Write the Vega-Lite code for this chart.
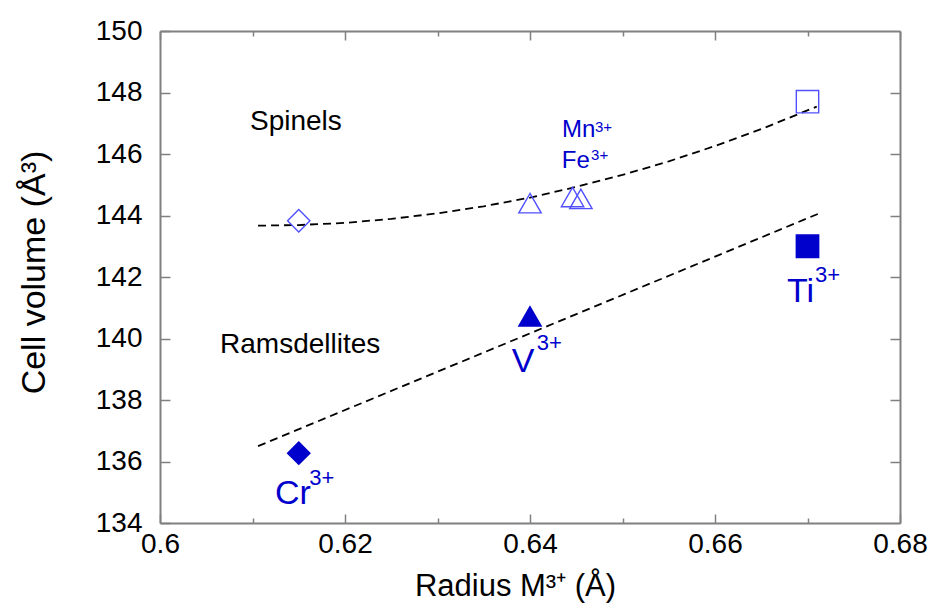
{
  "$schema": "https://vega.github.io/schema/vega-lite/v6.json",
  "width": 740,
  "height": 492,
  "autosize": {"type": "none"},
  "padding": {"left": 160, "top": 31, "right": 35, "bottom": 87},
  "background": "white",
  "config": {
    "view": {"stroke": null},
    "font": "Liberation Sans",
    "axis": {
      "domainColor": "#808080",
      "tickColor": "#808080",
      "domainWidth": 2,
      "tickWidth": 1.5,
      "grid": false,
      "labelFlush": false,
      "labelOverlap": false,
      "labelFont": "Liberation Sans",
      "labelFontSize": 28,
      "labelColor": "black",
      "titleFont": "Liberation Sans",
      "titleFontSize": 31,
      "titleFontWeight": "normal",
      "titleColor": "black"
    }
  },
  "datasets": {
    "points": [
      {"radius": 0.615, "volume": 143.83, "ion": "Cr", "phase": "Spinel"},
      {"radius": 0.64, "volume": 144.4, "ion": "V", "phase": "Spinel"},
      {"radius": 0.6446, "volume": 144.6, "ion": "Mn", "phase": "Spinel"},
      {"radius": 0.6455, "volume": 144.54, "ion": "Fe", "phase": "Spinel"},
      {"radius": 0.67, "volume": 147.7, "ion": "Ti", "phase": "Spinel"},
      {"radius": 0.615, "volume": 136.27, "ion": "Cr", "phase": "Ramsdellite"},
      {"radius": 0.64, "volume": 140.72, "ion": "V", "phase": "Ramsdellite"},
      {"radius": 0.67, "volume": 143.0, "ion": "Ti", "phase": "Ramsdellite"}
    ],
    "spinelFit": [
      {"radius": 0.6106, "volume": 143.67},
      {"radius": 0.615, "volume": 143.69},
      {"radius": 0.62, "volume": 143.76},
      {"radius": 0.625, "volume": 143.89},
      {"radius": 0.63, "volume": 144.07},
      {"radius": 0.635, "volume": 144.3},
      {"radius": 0.64, "volume": 144.58},
      {"radius": 0.645, "volume": 144.93},
      {"radius": 0.65, "volume": 145.32},
      {"radius": 0.655, "volume": 145.76},
      {"radius": 0.66, "volume": 146.26},
      {"radius": 0.665, "volume": 146.81},
      {"radius": 0.671, "volume": 147.54}
    ],
    "ramsFit": [
      {"radius": 0.6106, "volume": 136.5},
      {"radius": 0.6716, "volume": 144.11}
    ],
    "phaseLabels": [
      {"radius": 0.60973, "volume": 146.78, "label": "Spinels"},
      {"radius": 0.60649, "volume": 139.53, "label": "Ramsdellites"}
    ],
    "smallLabels": [
      {"radius": 0.64346, "volume": 146.55, "label": "Mn"},
      {"radius": 0.64343, "volume": 145.53, "label": "Fe"}
    ],
    "smallSup": [
      {"radius": 0.64703, "volume": 146.73, "label": "3+"},
      {"radius": 0.6466, "volume": 145.8, "label": "3+"}
    ],
    "ionLabels": [
      {"radius": 0.66778, "volume": 141.19, "label": "Ti"},
      {"radius": 0.63802, "volume": 138.92, "label": "V"},
      {"radius": 0.61243, "volume": 134.62, "label": "Cr"}
    ],
    "ionSup": [
      {"radius": 0.67081, "volume": 141.84, "label": "3+"},
      {"radius": 0.64072, "volume": 139.63, "label": "3+"},
      {"radius": 0.61614, "volume": 135.24, "label": "3+"}
    ]
  },
  "resolve": {"axis": {"x": "independent", "y": "independent"}},
  "layer": [
    {
      "data": {"name": "spinelFit"},
      "mark": {"type": "line", "color": "black", "strokeWidth": 1.8, "strokeDash": [8, 5]},
      "encoding": {
        "x": {"field": "radius", "type": "quantitative", "scale": {"domain": [0.6, 0.68], "nice": false, "zero": false},
          "axis": {"orient": "top", "values": [0.61, 0.63, 0.65, 0.67], "labels": false, "tickSize": -5, "title": null, "domain": true}},
        "y": {"field": "volume", "type": "quantitative", "scale": {"domain": [134, 150], "nice": false, "zero": false},
          "axis": {"orient": "right", "values": [136, 138, 140, 142, 144, 146, 148], "labels": false, "tickSize": -10, "title": null, "domain": true}}
      }
    },
    {
      "data": {"name": "ramsFit"},
      "mark": {"type": "line", "color": "black", "strokeWidth": 1.8, "strokeDash": [8, 5]},
      "encoding": {
        "x": {"field": "radius", "type": "quantitative",
          "axis": {"orient": "bottom", "values": [0.61, 0.63, 0.65, 0.67], "labels": false, "tickSize": -5, "title": null, "domain": false}},
        "y": {"field": "volume", "type": "quantitative", "axis": null}
      }
    },
    {
      "data": {"name": "points"},
      "mark": {"type": "point", "filled": true, "opacity": 1, "strokeWidth": 1.4},
      "encoding": {
        "x": {"field": "radius", "type": "quantitative",
          "axis": {"orient": "bottom", "values": [0.6, 0.62, 0.64, 0.66, 0.68], "format": ".2~f", "tickSize": -9, "labelPadding": 16,
            "title": "Radius M³⁺ (Å)", "titleX": 355, "titleY": 72, "titleBaseline": "alphabetic", "titleAnchor": "middle"}},
        "y": {"field": "volume", "type": "quantitative",
          "axis": {"orient": "left", "values": [134, 136, 138, 140, 142, 144, 146, 148, 150], "tickSize": -10, "labelPadding": 28,
            "title": "Cell volume (Å³)", "titleFontSize": 34, "titleX": -116, "titleY": 241, "titleBaseline": "alphabetic", "titleAngle": -90}},
        "shape": {"field": "ion", "type": "nominal", "legend": null,
          "scale": {"domain": ["Cr", "V", "Mn", "Fe", "Ti"], "range": ["diamond", "triangle-up", "triangle-up", "triangle-up", "square"]}},
        "size": {"field": "ion", "type": "nominal", "legend": null,
          "scale": {"domain": ["Cr", "V", "Mn", "Fe", "Ti"], "range": [500, 500, 500, 500, 256]}},
        "fill": {"field": "phase", "type": "nominal", "legend": null,
          "scale": {"domain": ["Spinel", "Ramsdellite"], "range": ["transparent", "#0000cc"]}},
        "stroke": {"field": "phase", "type": "nominal", "legend": null,
          "scale": {"domain": ["Spinel", "Ramsdellite"], "range": ["#5050ff", "#0000cc"]}}
      }
    },
    {
      "data": {"name": "phaseLabels"},
      "mark": {"type": "text", "align": "left", "baseline": "alphabetic", "fontSize": 28, "color": "black"},
      "encoding": {
        "x": {"field": "radius", "type": "quantitative",
          "axis": {"orient": "top", "values": [0.6, 0.62, 0.64, 0.66, 0.68], "labels": false, "tickSize": -9, "title": null, "domain": false}},
        "y": {"field": "volume", "type": "quantitative", "axis": null},
        "text": {"field": "label"}
      }
    },
    {
      "data": {"name": "smallLabels"},
      "mark": {"type": "text", "align": "left", "baseline": "alphabetic", "fontSize": 24, "color": "#0000cc"},
      "encoding": {
        "x": {"field": "radius", "type": "quantitative", "axis": null},
        "y": {"field": "volume", "type": "quantitative", "axis": null},
        "text": {"field": "label"}
      }
    },
    {
      "data": {"name": "smallSup"},
      "mark": {"type": "text", "align": "left", "baseline": "alphabetic", "fontSize": 15, "color": "#0000cc"},
      "encoding": {
        "x": {"field": "radius", "type": "quantitative", "axis": null},
        "y": {"field": "volume", "type": "quantitative", "axis": null},
        "text": {"field": "label"}
      }
    },
    {
      "data": {"name": "ionLabels"},
      "mark": {"type": "text", "align": "left", "baseline": "alphabetic", "fontSize": 34, "color": "#0000cc"},
      "encoding": {
        "x": {"field": "radius", "type": "quantitative", "axis": null},
        "y": {"field": "volume", "type": "quantitative", "axis": null},
        "text": {"field": "label"}
      }
    },
    {
      "data": {"name": "ionSup"},
      "mark": {"type": "text", "align": "left", "baseline": "alphabetic", "fontSize": 22, "color": "#0000cc"},
      "encoding": {
        "x": {"field": "radius", "type": "quantitative", "axis": null},
        "y": {"field": "volume", "type": "quantitative", "axis": null},
        "text": {"field": "label"}
      }
    }
  ]
}
